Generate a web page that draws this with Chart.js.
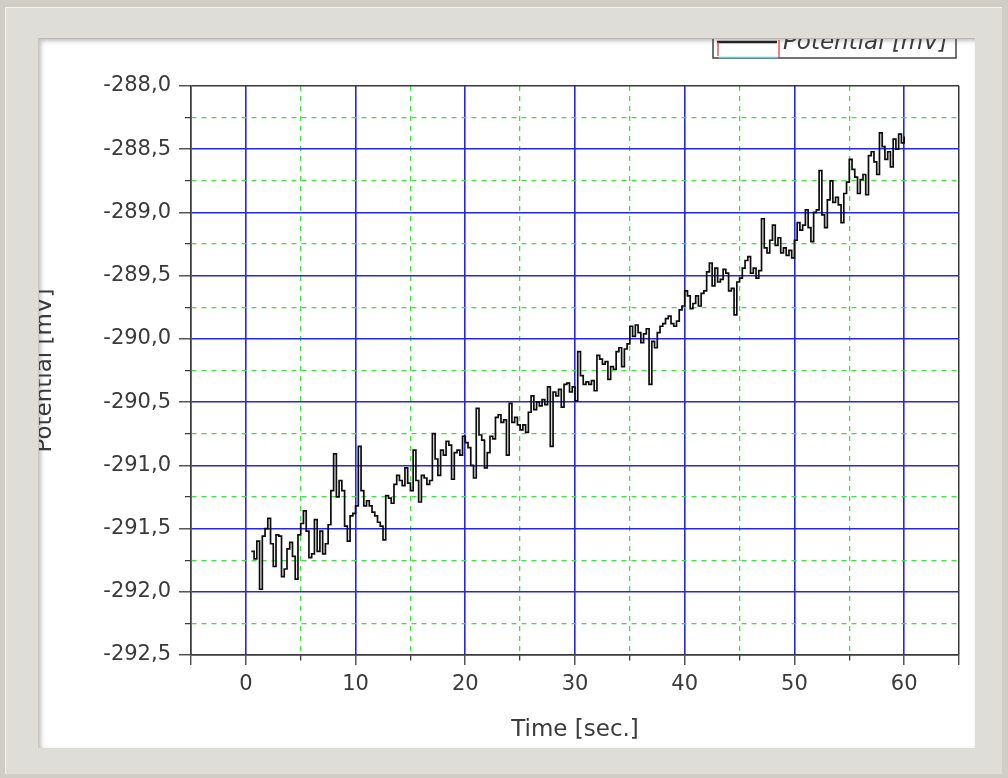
<!DOCTYPE html>
<html>
<head>
<meta charset="utf-8">
<script src="https://cdn.jsdelivr.net/npm/chart.js@4.4.1/dist/chart.umd.min.js"></script>
<style>
    html, body { margin: 0; padding: 0; }
    body { width: 1008px; height: 778px; background: #cfcdc6; position: relative; overflow: hidden; }
    .frame {
        position: absolute; left: 5px; top: 7px; width: 996px; height: 766px;
        background: #dfddd7; border-top: 1px solid #f3f2ee; border-left: 1px solid #f3f2ee;
    }
    .panel {
        position: absolute; left: 38px; top: 38px; width: 937px; height: 710px;
        background: #fff; overflow: hidden;
        box-shadow: inset 2px 2px 4px rgba(0, 0, 0, 0.25);
        border-top: 1px solid #b9b7b1; border-left: 1px solid #c9c7c1;
        box-sizing: border-box;
    }
    #lineChart { position: absolute; left: -8px; top: -1px; }
</style>
</head>
<body>
<div class="frame"></div>
<div class="panel"><canvas id="lineChart" width="945" height="710"></canvas></div>
<script>
// sampling of the recorder: first sample and interval in seconds
const sampleStart = 0.5;
const sampleStep = 0.25;

// electrode potential in mV, one row per 2 s
const potential = [
    -291.68, -291.74, -291.60, -291.98, -291.56, -291.50, -291.42, -291.62,
    -291.80, -291.55, -291.56, -291.88, -291.82, -291.66, -291.61, -291.72,
    -291.90, -291.55, -291.46, -291.36, -291.52, -291.73, -291.70, -291.43,
    -291.68, -291.52, -291.70, -291.62, -291.47, -291.20, -290.91, -291.25,
    -291.12, -291.20, -291.48, -291.60, -291.40, -291.38, -291.32, -290.85,
    -291.20, -291.32, -291.28, -291.32, -291.37, -291.40, -291.45, -291.48,
    -291.59, -291.24, -291.26, -291.30, -291.15, -291.08, -291.12, -291.16,
    -291.02, -291.14, -291.20, -290.88, -291.12, -291.29, -291.08, -291.10,
    -291.15, -291.12, -290.75, -290.95, -291.08, -290.88, -290.92, -290.81,
    -290.84, -291.11, -290.90, -290.88, -290.92, -290.77, -290.82, -290.86,
    -291.00, -291.10, -290.55, -290.76, -290.80, -291.02, -290.90, -290.77,
    -290.79, -290.62, -290.60, -290.66, -290.64, -290.92, -290.51, -290.66,
    -290.62, -290.68, -290.72, -290.68, -290.74, -290.58, -290.45, -290.56,
    -290.50, -290.53, -290.48, -290.52, -290.38, -290.85, -290.42, -290.45,
    -290.40, -290.54, -290.36, -290.35, -290.42, -290.38, -290.49, -290.10,
    -290.29, -290.36, -290.34, -290.36, -290.33, -290.41, -290.13, -290.16,
    -290.20, -290.18, -290.32, -290.22, -290.24, -290.10, -290.07, -290.22,
    -290.08, -290.04, -289.90, -289.98, -289.89, -289.95, -290.03, -289.96,
    -289.92, -290.36, -290.02, -290.07, -289.95, -289.90, -289.88, -289.84,
    -289.82, -289.88, -289.90, -289.86, -289.77, -289.74, -289.62, -289.66,
    -289.76, -289.72, -289.66, -289.74, -289.64, -289.62, -289.47, -289.40,
    -289.58, -289.44, -289.55, -289.53, -289.45, -289.48, -289.62, -289.60,
    -289.81, -289.55, -289.52, -289.44, -289.38, -289.35, -289.48, -289.44,
    -289.52, -289.46, -289.05, -289.28, -289.32, -289.22, -289.10, -289.26,
    -289.20, -289.32, -289.28, -289.34, -289.30, -289.36, -289.22, -289.08,
    -289.14, -289.10, -288.98, -289.12, -289.23, -289.00, -288.98, -288.67,
    -289.02, -289.12, -288.90, -288.75, -288.92, -288.88, -288.94, -289.08,
    -288.85, -288.76, -288.58, -288.66, -288.72, -288.85, -288.74, -288.70,
    -288.86, -288.55, -288.52, -288.60, -288.70, -288.37, -288.48, -288.58,
    -288.52, -288.64, -288.42, -288.50, -288.38, -288.45, -288.40
];

const xRange = { min: -5, max: 65, step: 5, labelEvery: 10, labelFrom: 0, labelTo: 60 };
const yRange = { min: -292.5, max: -288.0, step: 0.25, labelEvery: 0.5 };

const seriesLabel = 'Potential [mV]';
const xTitle = 'Time [sec.]';
const yTitle = 'Potential [mV]';

const points = potential.map((v, i) => ({ x: sampleStart + i * sampleStep, y: v }));

const FONT = 'DejaVu Sans, Verdana, sans-serif';
const MAJOR = 'rgb(38, 38, 232)';
const MINOR = 'rgb(70, 222, 70)';
const EDGE = '#3b3b3b';

function isMultiple(v, step) {
    return Math.abs(Math.round(v / step) * step - v) < 1e-6;
}

// kind of grid line: frame edge, major (blue, solid) or minor (green, dashed)
function lineKind(ctx, range) {
    if (!ctx.tick) return 'edge';
    const v = ctx.tick.value;
    if (Math.abs(v - range.min) < 1e-6 || Math.abs(v - range.max) < 1e-6) return 'edge';
    return isMultiple(v, range.labelEvery) ? 'major' : 'minor';
}

function gridFor(range, tickLen, minorTickDash) {
    return {
        grid: {
            color: ctx => ({ edge: EDGE, major: MAJOR, minor: MINOR })[lineKind(ctx, range)],
            lineWidth: ctx => ({ edge: 1.5, major: 1.6, minor: 1.3 })[lineKind(ctx, range)],
            tickColor: EDGE,
            tickWidth: 1.3,
            tickLength: tickLen,
            tickBorderDash: ctx => lineKind(ctx, range) === 'minor' ? minorTickDash : [],
        },
        border: {
            display: true,
            color: EDGE,
            width: 1.5,
            dash: ctx => lineKind(ctx, range) === 'minor' ? [5, 5] : [],
        },
    };
}

// framed legend at the top right, partly hidden under the panel edge
const legendBox = {
    id: 'legendBox',
    afterDraw(chart) {
        const c = chart.ctx;
        const right = chart.chartArea.right - 3;
        const left = right - 243;
        const split = left + 66;
        const top = -10, bottom = 20;
        c.save();
        c.strokeStyle = '#444';
        c.lineWidth = 1.5;
        c.strokeRect(left, top, right - left, bottom - top);
        c.strokeStyle = '#222';
        c.lineWidth = 2.5;
        c.beginPath(); c.moveTo(left + 4, 4); c.lineTo(split - 2, 4); c.stroke();
        c.strokeStyle = '#e03030';
        c.lineWidth = 1.2;
        c.beginPath();
        c.moveTo(left + 5, 4); c.lineTo(left + 5, 18);
        c.moveTo(split, 2); c.lineTo(split, 20);
        c.stroke();
        c.strokeStyle = '#30e0f0';
        c.lineWidth = 1.6;
        c.beginPath(); c.moveTo(left + 6, 19.5); c.lineTo(split - 1, 19.5); c.stroke();
        c.fillStyle = '#3a3a3a';
        c.font = 'italic 23px ' + FONT;
        c.textBaseline = 'alphabetic';
        c.fillText(seriesLabel, split + 4, 11);
        c.restore();
    }
};

const chart = new Chart(document.getElementById('lineChart'), {
    type: 'line',
    data: {
        datasets: [{
            label: seriesLabel,
            data: points,
            borderColor: '#0c0c0c',
            borderWidth: 1.7,
            pointRadius: 0,
            stepped: true,
            fill: false,
        }],
    },
    options: {
        responsive: false,
        animation: false,
        events: [],
        layout: { padding: { left: 0, top: 48, right: 17, bottom: 0 } },
        plugins: { legend: { display: false }, tooltip: { enabled: false } },
        scales: {
            x: {
                type: 'linear',
                min: xRange.min,
                max: xRange.max,
                ...gridFor(xRange, 10, [5, 100]),
                ticks: {
                    stepSize: xRange.step,
                    autoSkip: false,
                    maxRotation: 0,
                    padding: 7,
                    color: '#3a3a3a',
                    font: { family: FONT, size: 21 },
                    callback: v => (isMultiple(v, xRange.labelEvery) && v >= xRange.labelFrom && v <= xRange.labelTo) ? String(v) : '',
                },
                title: {
                    display: true,
                    text: xTitle,
                    color: '#3a3a3a',
                    font: { family: FONT, size: 23 },
                    padding: { top: 0, bottom: 4 },
                },
                afterFit: scale => { scale.height = 93; },
            },
            y: {
                type: 'linear',
                min: yRange.min,
                max: yRange.max,
                ...gridFor(yRange, 12, [0, 6, 6, 100]),
                ticks: {
                    stepSize: yRange.step,
                    autoSkip: false,
                    padding: 8,
                    color: '#3a3a3a',
                    font: { family: FONT, size: 21 },
                    callback: v => isMultiple(v, yRange.labelEvery) ? v.toFixed(1).replace('.', ',') : '',
                },
                title: {
                    display: true,
                    text: yTitle,
                    color: '#3a3a3a',
                    font: { family: FONT, size: 23 },
                    padding: { top: 0, bottom: 0 },
                },
                afterFit: scale => { scale.width = 160; },
            },
        },
    },
    plugins: [legendBox],
});
</script>
</body>
</html>
